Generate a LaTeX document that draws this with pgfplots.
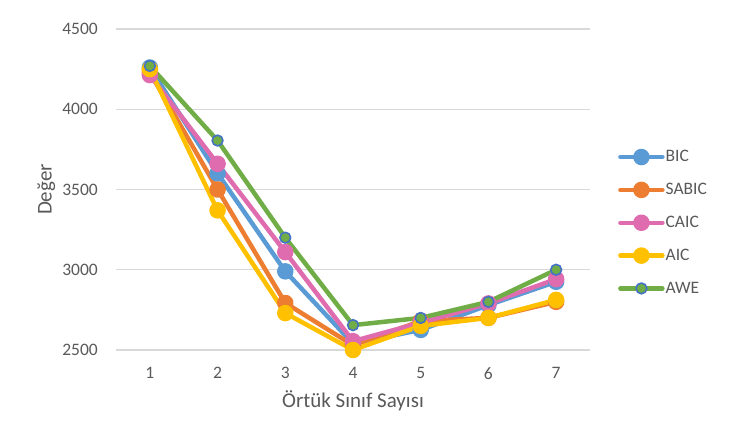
\documentclass[border=0pt]{standalone}
\usepackage{fontspec}
\setmainfont{Carlito}
\usepackage{pgfplots}
\pgfplotsset{compat=1.18}

\definecolor{cbic}{HTML}{5B9BD5}
\definecolor{csabic}{HTML}{ED7D31}
\definecolor{ccaic}{HTML}{E06CB0}
\definecolor{caic}{HTML}{FFC000}
\definecolor{cawe}{HTML}{70AD47}
\definecolor{cring}{HTML}{4472C4}
\definecolor{txt}{HTML}{595959}
\definecolor{gridc}{HTML}{D9D9D9}

\begin{document}
\begin{tikzpicture}
\path[use as bounding box] (0,0) rectangle (734bp,443bp);
\begin{axis}[
    at={(116bp,93bp)}, anchor=south west,
    scale only axis,
    width=474bp, height=321bp,
    xmin=0.5, xmax=7.5,
    ymin=2500, ymax=4500,
    hide x axis,
    axis y line=left,
    ytick={2500,3000,3500,4000,4500},
    axis line style={draw=none, -},
    tick style={draw=none},
    major tick length=0pt,
    xmajorgrids=false, ymajorgrids=false,
    tick label style={text=txt, font=\fontsize{17.5bp}{20bp}\selectfont},
    /pgf/number format/assume math mode=true,
    /pgf/number format/1000 sep={},
    yticklabel style={anchor=east, inner sep=0pt, xshift=-18bp},
    ylabel={Değer},
    every axis y label/.style={at={(axis description cs:-0.147,0.5)}, rotate=90, anchor=center, text=txt, font=\fontsize{21bp}{24bp}\selectfont},
    legend style={at={(axis description cs:1.059,0.3966)}, anchor=west, draw=none, fill=none,
        font=\fontsize{17.5bp}{20bp}\selectfont, text=txt, row sep=18bp, inner sep=0pt,
        nodes={inner sep=1bp}},
    legend cell align=left,
    legend image code/.code={\draw[mark repeat=2,mark phase=2,#1] plot coordinates {(0bp,0bp)(21bp,0bp)(42bp,0bp)};},
    every axis plot/.append style={line width=4.5bp, line join=round, line cap=round},
    clip=false,
]
% horizontal grid lines
\pgfplotsinvokeforeach{2500,3000,3500,4000,4500}{
  \draw[gridc, line width=1.2bp] (axis cs:0.5,#1) -- (axis cs:7.5,#1);
}
% category labels on the x axis
\pgfplotsinvokeforeach{1,...,7}{
  \node[anchor=north, inner sep=0pt, yshift=-17bp, text=txt, font=\fontsize{17.5bp}{20bp}\selectfont]
    at (axis cs:#1,2500) {#1};
}
\node[anchor=center, text=txt, font=\fontsize{21bp}{24bp}\selectfont]
  at (axis description cs:0.5,-0.159) {Örtük Sınıf Sayısı};
\addplot[cbic, mark=*, mark size=6bp, mark options={fill=cbic, draw=none}]
  coordinates {(1,4260) (2,3600) (3,2990) (4,2540) (5,2625) (6,2780) (7,2925)};
\addlegendentry{BIC}
\addplot[csabic, mark=*, mark size=6bp, mark options={fill=csabic, draw=none}]
  coordinates {(1,4230) (2,3500) (3,2793) (4,2530) (5,2680) (6,2700) (7,2800)};
\addlegendentry{SABIC}
\addplot[ccaic, mark=*, mark size=6bp, mark options={fill=ccaic, draw=none}]
  coordinates {(1,4213) (2,3660) (3,3110) (4,2555) (5,2670) (6,2790) (7,2942)};
\addlegendentry{CAIC}
\addplot[caic, mark=*, mark size=6bp, mark options={fill=caic, draw=none}]
  coordinates {(1,4250) (2,3370) (3,2730) (4,2500) (5,2650) (6,2700) (7,2812)};
\addlegendentry{AIC}
\addplot[cawe, mark=*, mark size=5.4bp, mark options={fill=cawe, draw=cring, line width=1.6bp}]
  coordinates {(1,4270) (2,3805) (3,3200) (4,2655) (5,2700) (6,2800) (7,3000)};
\addlegendentry{AWE}
\end{axis}
\end{tikzpicture}
\end{document}
